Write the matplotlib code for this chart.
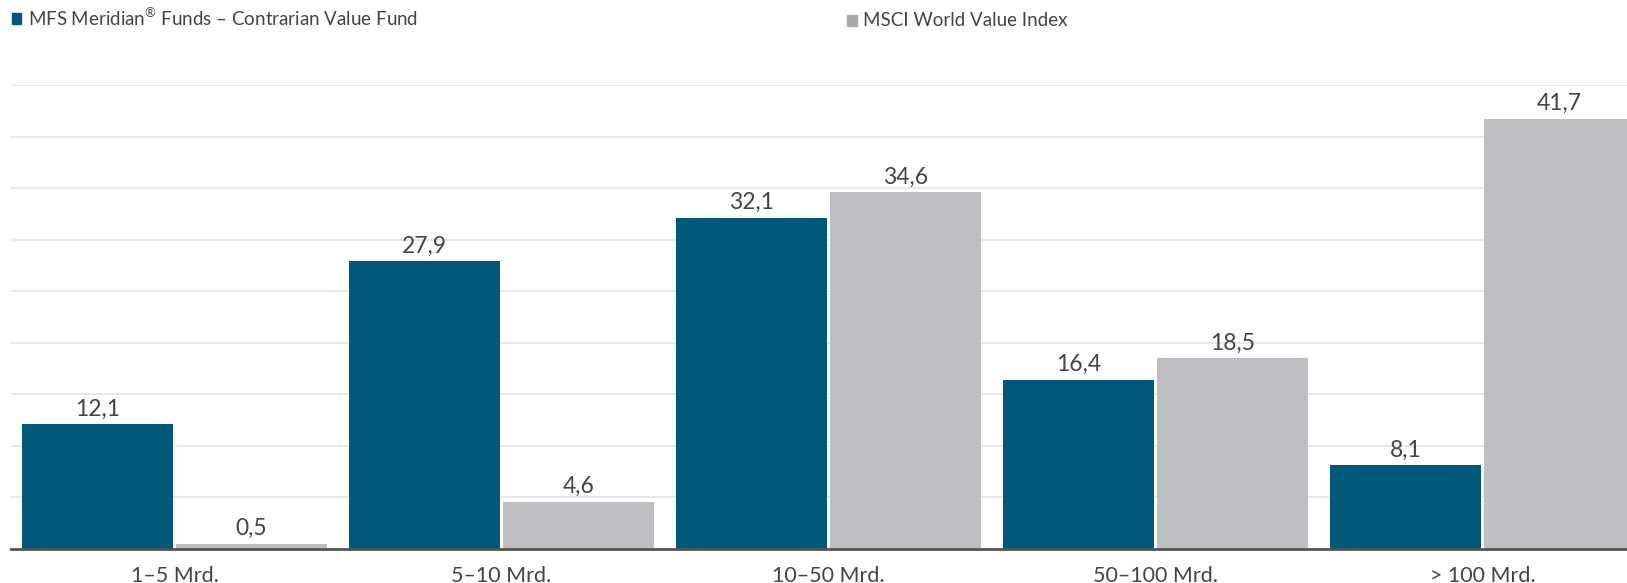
import matplotlib
matplotlib.use("Agg")
import matplotlib.pyplot as plt
import matplotlib.patches as mpatches
import numpy as np

# data
categories = ["1–5 Mrd.", "5–10 Mrd.", "10–50 Mrd.", "50–100 Mrd.", "> 100 Mrd."]
fund_values = [12.1, 27.9, 32.1, 16.4, 8.1]
index_values = [0.5, 4.6, 34.6, 18.5, 41.7]
fund_name = "MFS Meridian$^{®}$ Funds – Contrarian Value Fund"
index_name = "MSCI World Value Index"

blue = "#00587a"
grey = "#bebfc3"
text_col = "#444444"

plt.rcParams["font.family"] = ["Lato", "DejaVu Sans"]
plt.rcParams["mathtext.fontset"] = "custom"
plt.rcParams["mathtext.rm"] = "Lato"

fig = plt.figure(figsize=(16.27, 5.83), dpi=100)
W, H = 1627, 583
ax = fig.add_axes([11 / W, (H - 549) / H, (W - 11) / W, (549 - 85) / H])

x = np.arange(len(categories))
bw = 0.46
off = 0.236
b1 = ax.bar(x - off, fund_values, bw, color=blue, zorder=3)
b2 = ax.bar(x + off, index_values, bw, color=grey, zorder=3)

for bars, vals in ((b1, fund_values), (b2, index_values)):
    for r, v in zip(bars, vals):
        ax.annotate(f"{v:.1f}".replace(".", ","),
                    (r.get_x() + r.get_width() / 2, v),
                    xytext=(0, 3.5), textcoords="offset points",
                    ha="center", va="bottom", fontsize=16.5, color=text_col,
                    clip_on=False)

ax.set_xlim(-0.5, (W - 11) / 327 - 0.5)
ax.set_ylim(0, 45)
ax.set_yticks(np.arange(5, 46, 5))
ax.yaxis.grid(True, color="#e6e6e6", linewidth=1.3, zorder=0)
ax.tick_params(axis="y", left=False, labelleft=False)
ax.set_xticks(x)
ax.set_xticklabels(categories, fontsize=15.5, color=text_col)
ax.tick_params(axis="x", length=0, pad=12)
for s in ("top", "right", "left"):
    ax.spines[s].set_visible(False)
ax.spines["bottom"].set_color("#555555")
ax.spines["bottom"].set_linewidth(2)
ax.spines["bottom"].set_zorder(4)

# legend drawn by hand across the top
fig.patches.append(mpatches.Rectangle((12 / W, 1 - 24 / H), 9 / W, 11 / H,
                                      color=blue, transform=fig.transFigure))
fig.text(28 / W, 1 - 18 / H, fund_name, fontsize=13.5, color=text_col, va="center")
fig.patches.append(mpatches.Rectangle((847 / W, 1 - 26 / H), 10 / W, 11 / H,
                                      color="#a8a9ad", transform=fig.transFigure))
fig.text(863 / W, 1 - 20 / H, index_name, fontsize=13.5, color=text_col, va="center")

fig.savefig("out.png", dpi=100)
